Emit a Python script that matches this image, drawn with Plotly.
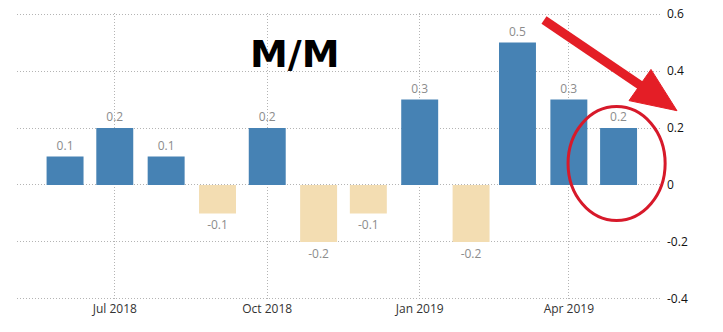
import plotly.graph_objects as go

months = ["2018-06-01", "2018-07-01", "2018-08-01", "2018-09-01", "2018-10-01", "2018-11-01",
          "2018-12-01", "2019-01-01", "2019-02-01", "2019-03-01", "2019-04-01", "2019-05-01"]
values = [0.1, 0.2, 0.1, -0.1, 0.2, -0.2, -0.1, 0.3, -0.2, 0.5, 0.3, 0.2]
labels = ["0.1", "0.2", "0.1", "-0.1", "0.2", "-0.2", "-0.1", "0.3", "-0.2", "0.5", "0.3", "0.2"]
x_tick_vals = ["2018-07-01", "2018-10-01", "2019-01-01", "2019-04-01"]
x_tick_text = ["Jul 2018", "Oct 2018", "Jan 2019", "Apr 2019"]
y_tick_vals = [-0.4, -0.2, 0, 0.2, 0.4, 0.6]
y_tick_text = ["-0.4", "-0.2", "0", "0.2", "0.4", "0.6"]

POS = "#4682B4"
NEG = "#F3DDB2"
colors = [POS if v >= 0 else NEG for v in values]
day_ms = 86400000

fig = go.Figure()
fig.add_trace(go.Bar(
    x=months, y=values, width=[22.3 * day_ms] * len(values),
    marker=dict(color=colors, line=dict(width=0)),
    text=labels, textposition="outside", cliponaxis=False,
    textfont=dict(family="Open Sans", size=12, color="#8c8c8c"),
))

fig.update_layout(
    width=723, height=332,
    margin=dict(l=17, r=63, t=13, b=32),
    paper_bgcolor="white", plot_bgcolor="white",
    showlegend=False,
    font=dict(family="Open Sans", size=12, color="#222"),
    xaxis=dict(
        type="date", range=["2018-05-03", "2019-05-26"], automargin=False,
        tickvals=x_tick_vals, ticktext=x_tick_text,
        showgrid=True, gridcolor="#b4b4b4", griddash="1px,2px", gridwidth=1,
        zeroline=False, showline=False, ticks="",
        tickfont=dict(family="Open Sans", size=12, color="#333"),
    ),
    yaxis=dict(
        range=[-0.404, 0.604], side="right", automargin=False,
        tickvals=y_tick_vals, ticktext=y_tick_text,
        showgrid=True, gridcolor="#b4b4b4", griddash="1px,2px", gridwidth=1,
        zeroline=False, showline=False, ticks="", ticklabelstandoff=6,
        tickfont=dict(family="Open Sans", size=12, color="#111"),
    ),
)

fig.add_annotation(
    text="<b>M/M</b>", xref="paper", yref="paper", x=0.432, y=0.856,
    showarrow=False, xanchor="center", yanchor="middle",
    font=dict(family="DejaVu Sans", size=38, color="black"),
)

RED = "#E41E26"
# arrow shaft
fig.add_shape(type="line", xref="paper", yref="paper",
              x0=0.8196, y0=0.9754, x1=0.9767, y1=0.7368,
              line=dict(color=RED, width=9))
# arrow head
fig.add_shape(type="path", xref="paper", yref="paper",
              path="M 1.0264,0.6596 L 0.9518,0.6947 L 0.9860,0.8035 Z",
              fillcolor=RED, line=dict(color=RED, width=1))
# circle
fig.add_shape(type="circle", xref="paper", yref="paper",
              x0=0.857, x1=1.008, y0=0.277, y1=0.674,
              line=dict(color="#D7192A", width=3))

fig.write_html("out.html")
